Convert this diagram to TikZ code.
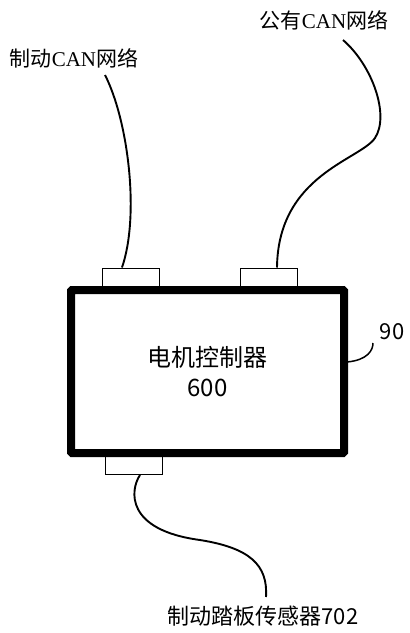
\documentclass[tikz,border=0pt]{standalone}
\usepackage{fontspec}
\setmainfont{Liberation Serif}
\newfontfamily\cjk{Noto Sans CJK SC}
\usepackage{tikz}
\usetikzlibrary{calc}

\begin{document}
\begin{tikzpicture}[x=1pt,y=-1pt,
	port/.style={draw,line width=1pt,minimum width=57pt,minimum height=22pt,inner sep=0pt},
	wire/.style={black,line width=1.9pt},
	lbl/.style={inner sep=0pt,font=\fontsize{21}{24}\selectfont}]
			\useasboundingbox (0,0) rectangle (410,633);
			\node [lbl] (brakecan) at (74,58) {{\cjk 制动}CAN{\cjk 网络}};
			\node [lbl] (pubcan) at (324,20) {{\cjk 公有}CAN{\cjk 网络}};
			\coordinate (wa) at (105,75);
			\coordinate (wb) at (343,40);
			\node [port] (pa) at (130.5,279) {};
			\node [port] (pb) at (268.5,279) {};
			\node [port] (pc) at (134,463.5) {};
			\node [draw,line width=8pt,rounded corners=1pt,minimum width=273pt,minimum height=163pt,align=center,font=\cjk\fontsize{24}{30}\selectfont] (mcu) at (207.5,371.5) {电机控制器\\600};
			\node [lbl,font=\cjk\fontsize{22}{24}\selectfont] (pedal) at (263,616) {制动踏板传感器702};
			\node [lbl,font=\cjk\fontsize{22}{24}\selectfont] (ref) at (392,332) {90};
			\coordinate (wc) at (266,597);
			\coordinate (lead) at (373,343);
			\draw [wire] (wa) .. controls (128,120) and (140,215) .. ($(pa.north)+(-8.5,0)$);
			\draw [wire] (wb) .. controls (372,65) and (390,115) .. (375,138) .. controls (360,160) and (278,175) .. ($(pb.north)+(8.5,0)$);
			\draw [wire] ($(pc.south)+(6,0)$) .. controls (130,490) and (125,530) .. (200,540) .. controls (250,548) and (268,565) .. (wc);
			\draw [wire,line width=1.5pt] (347,362) .. controls (368,360) and (373,350) .. (lead);
		\end{tikzpicture}
\end{document}
